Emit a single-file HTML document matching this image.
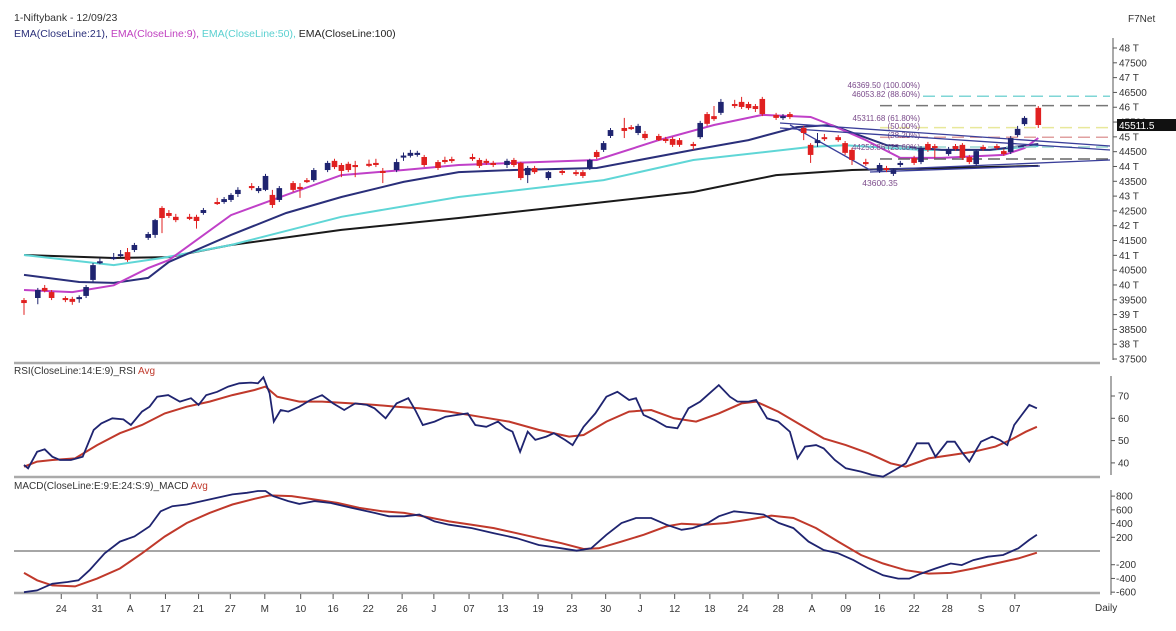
<!DOCTYPE html>
<html><head><meta charset="utf-8"><style>
html,body{margin:0;padding:0;background:#fff;}
svg{display:block;font-family:"Liberation Sans",sans-serif;}
</style></head><body>
<svg id="chart" width="1176" height="631" viewBox="0 0 1176 631" xmlns="http://www.w3.org/2000/svg">
<rect x="0" y="0" width="1176" height="631" fill="#fff"/>
<text x="14" y="21" font-size="10.5" fill="#333">1-Niftybank - 12/09/23</text>
<text x="14" y="37" font-size="10.5"><tspan fill="#2a2f7a">EMA(CloseLine:21), </tspan><tspan fill="#c040c0">EMA(CloseLine:9), </tspan><tspan fill="#5ad0d0">EMA(CloseLine:50), </tspan><tspan fill="#222">EMA(CloseLine:100)</tspan></text>
<text x="1128" y="22" font-size="10" fill="#333">F7Net</text>
<g id="grid"></g>
<g id="price"></g>
<g id="rsi"></g>
<g id="macd"></g>
<g id="axes"></g>
</svg>
<script>
// ---------- data ----------
const cIdx   = [0,2,3,4,6,7,8,9,10,11,13,14,15,16,18,19,20,21,22,24,25,26,28,29,30,31,33,34,35,36,37,39,40,41,42,44,45,46,47,48,50,51,52,54,55,56,57,58,60,61,62,65,66,67,68,70,71,72,73,74,76,78,80,81,82,83,84,85,87,88,89,90,92,93,94,95,97,98,99,100,101,103,104,105,106,107,109,110,111,113,114,115,116,118,119,120,122,124,125,126,127,129,130,131,132,134,135,136,137,138,139,141,142,143,144,145,147];
const cOpen  = [39490,39560,39900,39760,39560,39530,39530,39630,40170,40740,40880,40980,41110,41180,41590,41690,42600,42430,42300,42300,42300,42430,42800,42800,42870,43070,43340,43170,43210,43040,42870,43440,43310,43540,43540,43880,44190,44050,44090,44050,44090,44120,43850,43880,44300,44360,44390,44320,44150,44220,44250,44320,44220,44190,44120,44050,44220,44120,43710,43950,43610,43850,43810,43810,43950,44490,44560,45030,45300,45330,45130,45100,45030,44930,44930,44890,44760,44990,45770,45700,45810,46110,46180,46110,46040,46280,45740,45640,45770,45300,44730,44790,44990,44990,44790,44560,44150,43850,43950,43750,44050,44290,44150,44760,44690,44420,44690,44730,44320,44080,44660,44690,44520,44490,45060,45430,45980];
const cClose = [39390,39830,39800,39560,39490,39430,39590,39930,40670,40800,40940,41040,40840,41350,41720,42190,42260,42330,42190,42230,42160,42530,42740,42900,43040,43210,43270,43270,43680,42700,43270,43210,43240,43480,43880,44120,43980,43850,43880,43980,44020,44050,43780,44150,44370,44460,44460,44050,43950,44150,44190,44250,44020,44120,44050,44190,44050,43610,43950,43810,43810,43780,43750,43680,44220,44320,44790,45230,45200,45270,45370,44960,44890,44860,44730,44730,44690,45470,45440,45600,46180,46040,46010,45970,45940,45770,45640,45700,45670,45130,44390,44890,44930,44890,44460,44220,44080,44050,43880,43880,44120,44120,44620,44560,44630,44590,44590,44290,44150,44520,44590,44630,44420,44960,45270,45640,45400];
const cHigh  = [39560,39900,40000,39830,39620,39600,39650,40000,40740,40900,41080,41180,41250,41420,41790,42230,42660,42530,42400,42400,42370,42600,42940,42970,43100,43300,43440,43340,43750,43210,43340,43510,43440,43610,43950,44190,44260,44120,44160,44190,44230,44260,43950,44260,44470,44560,44530,44390,44220,44330,44330,44430,44290,44260,44190,44260,44290,44160,44020,44020,43850,43920,43880,43880,44260,44560,44860,45300,45640,45400,45440,45200,45100,45000,45000,44960,44830,45540,45840,46040,46280,46250,46350,46180,46110,46350,45810,45770,45840,45370,44790,45130,45100,45060,44860,44630,44260,44120,44020,43920,44190,44360,44690,44830,44760,44660,44760,44790,44390,44560,44730,44760,44590,45030,45370,45700,46040];
const cLow   = [38990,39350,39750,39490,39420,39330,39400,39560,40100,40700,40840,40940,40780,41110,41520,41590,41750,42260,42120,42190,41900,42370,42700,42740,42800,42970,43200,43100,43170,42600,42800,43140,42940,43440,43480,43810,43910,43640,43810,43640,43980,43980,43440,43810,44190,44300,44330,43980,43880,44090,44120,44190,43950,44050,43980,43950,43980,43540,43440,43750,43540,43710,43680,43610,43880,44250,44490,44960,44960,45230,45060,44890,44860,44790,44660,44660,44560,44930,45370,45540,45740,45970,45940,45910,45840,45700,45570,45570,45600,44890,44120,44660,44860,44830,44390,44050,44020,43780,43810,43680,43980,44050,44080,44490,44290,44360,44530,44220,44080,44020,44530,44560,44360,44420,45000,45370,45300];

const emaIdx100 = [0,13,21,30,46,63,83,97,109,120,133,147];
const ema100    = [41010,40910,40940,41350,41860,42260,42770,43140,43710,43880,43950,44020];
const emaIdx50  = [0,13,20,30,46,63,84,97,114,119,130,140,147];
const ema50     = [41010,40670,40910,41350,42300,42970,43540,44220,44660,44720,44560,44560,44690];
const emaIdx21  = [0,8,13,18,21,30,38,46,55,63,71,83,97,105,112,117,125,133,140,147];
const ema21     = [40340,40100,40070,40240,40780,41690,42430,42970,43480,43810,43880,43950,44560,44890,45330,45400,44720,44560,44560,44760];
const emaIdx9   = [0,7,13,18,21,30,38,46,55,63,71,83,92,100,107,114,117,122,127,133,142,145,147];
const ema9      = [39830,39760,39990,40570,40840,42360,43040,43710,43880,44050,44120,44220,44890,45400,45740,45670,45400,44890,44290,44290,44390,44620,44960];

const fibLevels = [46369.50,46053.82,45311.68,44984.93,44658.10,44253.86];
const fibLabels = ["46369.50 (100.00%)","46053.82 (88.60%)","45311.68 (61.80%)","(50.00%)","(38.20%)","44253.86 (23.60%)"];

const rsiIdx = [0,0.6,1.9,3.0,4.1,5.2,6.8,8.5,10.1,11.2,12.8,14.4,15.5,17.1,18.2,19.3,20.9,22.6,24.2,25.3,26.4,28.0,29.6,31.2,32.9,33.9,34.7,35.6,36.2,37.2,38.3,39.9,41.5,43.2,44.8,46.4,48.0,49.7,50.8,52.4,54.0,55.7,56.7,57.8,59.5,61.1,62.7,64.3,65.4,67.0,68.7,69.8,70.8,71.9,73.0,74.1,75.7,76.8,78.4,79.5,81.1,82.8,84.4,86.0,87.7,88.7,89.8,91.4,93.1,94.7,96.3,98.0,99.6,100.7,102.3,103.4,105.0,106.1,107.7,109.3,111.0,112.1,113.2,114.8,115.9,117.5,119.1,121.3,122.9,124.5,126.2,127.8,129.4,131.1,132.1,133.8,134.9,135.9,137.0,138.7,140.3,141.4,142.5,143.5,144.6,145.7,146.8];
const rsiVal = [39.1,37.6,45.0,46.1,42.8,41.3,41.3,42.8,54.8,57.7,60.0,59.5,57.0,63.0,65.2,69.7,70.4,67.5,69.0,66.0,70.4,71.9,74.2,75.7,76.0,75.7,78.4,71.2,58.5,63.7,63.0,65.2,68.2,70.4,66.7,63.7,66.7,66.0,64.5,60.0,66.7,69.0,63.7,57.0,58.5,60.7,61.5,62.2,57.0,56.2,58.5,55.5,54.0,45.0,54.0,50.3,51.8,53.3,50.3,48.0,56.2,62.2,69.7,71.9,68.2,69.0,61.5,59.2,56.2,55.5,64.5,67.5,71.9,74.9,69.7,67.5,67.5,68.2,60.0,58.5,54.0,42.0,47.3,48.0,46.5,41.3,37.6,36.1,34.6,33.8,36.8,39.8,48.8,48.8,42.8,49.5,49.5,45.0,40.6,49.5,51.8,50.3,48.0,57.0,61.5,66.0,64.5];
const rsiAvgIdx = [0,1.9,4.1,7.4,10.6,13.9,17.1,20.4,23.6,26.9,30.2,33.4,35.0,36.7,39.9,43.2,47.5,50.8,54.0,57.3,61.6,66.0,70.3,74.6,79.0,81.1,84.4,87.7,90.9,94.2,97.4,100.7,104.0,106.1,109.3,112.6,115.9,119.1,122.4,125.6,127.8,131.1,134.3,137.6,140.8,143.0,145.2,146.8];
const rsiAvg = [38.3,40.6,41.3,42.0,48.0,53.3,57.0,62.2,65.2,67.5,70.4,72.7,74.2,69.7,67.5,67.5,66.7,66.0,65.2,64.5,63.0,60.7,58.5,54.8,51.8,52.5,58.5,63.0,63.7,60.0,58.5,62.2,66.7,67.5,63.0,57.0,51.0,48.0,44.3,39.8,38.3,42.0,43.5,45.0,47.3,50.3,54.0,56.2];
const rsiTicks = [70,60,50,40];

const macdIdx = [0,1.9,4.1,6.3,7.9,9.5,11.7,13.9,16.0,18.2,19.8,21.5,23.6,25.8,28.0,30.2,32.3,33.9,35.0,36.1,38.3,39.9,42.1,44.3,47.5,50.8,52.9,55.1,57.3,59.5,61.6,64.9,68.1,71.4,74.6,77.9,80.1,82.2,84.4,86.6,88.7,90.9,93.1,95.3,96.9,99.1,100.7,102.9,105.0,107.2,109.4,111.5,113.7,115.9,118.0,120.2,122.4,124.5,126.7,128.3,130.0,132.1,134.3,135.9,137.6,139.7,141.9,144.1,145.7,146.8];
const macdVal = [-600,-574,-476,-452,-427,-280,-34,137,211,358,579,653,678,727,776,825,849,874,874,800,727,687,727,702,628,555,506,506,530,432,383,334,260,187,88,39,5,39,236,408,481,481,383,309,334,408,506,579,555,530,408,334,137,15,-34,-133,-255,-354,-403,-403,-329,-255,-182,-206,-133,-83,-59,39,162,236];
const sigIdx = [0,1.9,4.1,7.4,10.6,13.9,17.1,20.4,23.6,26.9,30.2,33.4,35.6,38.8,42.1,45.4,48.6,51.9,55.1,58.4,61.6,64.9,68.1,71.4,74.6,77.9,81.1,83.3,86.6,89.8,93.1,95.3,98.5,101.8,105.0,108.3,111.5,114.8,118.0,121.3,124.5,127.8,131.1,134.3,137.6,140.8,144.1,146.8];
const sigVal = [-319,-427,-501,-516,-403,-255,-34,211,408,555,678,761,810,800,751,702,628,579,555,496,432,383,334,260,187,113,29,39,137,236,358,398,383,408,457,516,481,334,137,-59,-182,-280,-329,-319,-255,-182,-108,-25];
const macdTicks = [800,600,400,200,-200,-400,-600];

const priceTicks = [48000,47500,47000,46500,46000,45500,45000,44500,44000,43500,43000,42500,42000,41500,41000,40500,40000,39500,39000,38500,38000,37500];
const dateLabels = ["24","31","A","17","21","27","M","10","16","22","26","J","07","13","19","23","30","J","12","18","24","28","A","09","16","22","28","S","07"];
const dateIdx = [5.4,10.6,15.4,20.5,25.3,29.9,34.9,40.1,44.8,49.9,54.8,59.4,64.5,69.4,74.5,79.4,84.3,89.3,94.3,99.4,104.2,109.3,114.2,119.1,124.0,129.0,133.8,138.7,143.6];

// ---------- scales ----------
const xi = i => 24 + i * 6.9;
const yP = p => 48 + (48000 - p) / 33.76;
const yR = r => 396 + (70 - r) * 2.23;
const yM = m => 551 - m * 0.0686;
const NS = "http://www.w3.org/2000/svg";
function mk(tag, parent, attrs){ const e=document.createElementNS(NS,tag); for(const k in attrs) e.setAttribute(k,attrs[k]); parent.appendChild(e); return e; }
function pathD(idx, vals, fy){ return idx.map((i,k)=>(k?'L':'M')+xi(i).toFixed(1)+' '+fy(vals[k]).toFixed(1)).join(' '); }

const grid=document.getElementById('grid'), price=document.getElementById('price'), rsi=document.getElementById('rsi'), macd=document.getElementById('macd'), axes=document.getElementById('axes');

// separators
[[363,'price-pane-separator'],[477,'rsi-pane-separator'],[593,'macd-pane-separator']].forEach(([y,n])=>{
  const l=mk('line',grid,{x1:14,x2:1100,y1:y,y2:y,stroke:'#aaa','stroke-width':2.5});
  
  
});
const zl=mk('line',grid,{x1:14,x2:1100,y1:yM(0),y2:yM(0),stroke:'#888','stroke-width':1.6});



// EMAs
[[emaIdx100,ema100,'#1a1a1a','ema-100-line'],[emaIdx50,ema50,'#5fd6d6','ema-50-line'],[emaIdx21,ema21,'#2a2f7a','ema-21-line'],[emaIdx9,ema9,'#c040c8','ema-9-line']].forEach(([ix,v,c,n])=>{
  const p=mk('path',price,{d:pathD(ix,v,yP),fill:'none',stroke:c,'stroke-width':2});
  
  
});

// fib lines
const fibColors=['#7fd6d6','#777','#e8e89a','#e0a0a0','#9ad6d0','#666'];
const fibStart=[923,880,880,880,880,880];
fibLevels.forEach((lv,k)=>{
  const l=mk('line',price,{x1:fibStart[k],x2:1110,y1:yP(lv),y2:yP(lv),stroke:fibColors[k],'stroke-width':1.5,'stroke-dasharray':'12 6'});
  
  
});
const fibLabelY=[88,97,121,129,138,150];
fibLabels.forEach((t,k)=>{
  const tx=mk('text',price,{x:920,y:fibLabelY[k],'font-size':8,fill:'#7a4a8a','text-anchor':'end'});
  tx.textContent=t;
  
  
});

// trendlines
[[780,123,1110,146],[780,128,1110,150],[790,125,870,170],[870,170,1110,160],[870,172,1040,166]].forEach(s=>{
  const l=mk('line',price,{x1:s[0],y1:s[1],x2:s[2],y2:s[3],stroke:'#3a3f9a','stroke-width':1.3});
  
  
});
const lowLbl=mk('text',price,{x:880,y:186,'font-size':8.5,fill:'#7a4a8a','text-anchor':'middle'});
lowLbl.textContent='43600.35';



// candles
cIdx.forEach((i,k)=>{
  const up=cClose[k]>=cOpen[k], col=up?'#1f2470':'#e02020';
  const x=xi(i);
  const w=mk('line',price,{x1:x,x2:x,y1:yP(cHigh[k]),y2:yP(cLow[k]),stroke:col,'stroke-width':1});
  
  
  const t=yP(Math.max(cOpen[k],cClose[k])), b=yP(Math.min(cOpen[k],cClose[k]));
  const r=mk('rect',price,{x:x-2.8,y:t,width:5.6,height:Math.max(2,b-t),fill:col});
  
  
});

// price axis
const pa=mk('line',axes,{x1:1113,x2:1113,y1:38,y2:360,stroke:'#555','stroke-width':1});


priceTicks.forEach(p=>{
  const y=yP(p);
  mk('line',axes,{x1:1113,x2:1117,y1:y,y2:y,stroke:'#555'});
  const t=mk('text',axes,{x:1119,y:y+3.5,'font-size':10,fill:'#333'});
  t.textContent = (p%1000===0) ? (p/1000)+' T' : String(p);
  
  
});
const lastBox=mk('rect',axes,{x:1117,y:yP(cClose[cClose.length-1])-6,width:59,height:12,fill:'#111'});


const lastTxt=mk('text',axes,{x:1119,y:yP(cClose[cClose.length-1])+4,'font-size':10,fill:'#fff'});
lastTxt.textContent='45511.5';



// RSI
const rt=mk('text',rsi,{x:14,y:374,'font-size':10,fill:'#333'});
rt.innerHTML='RSI(CloseLine:14:E:9)_RSI <tspan fill="#c0392b">Avg</tspan>';


const ra=mk('path',rsi,{d:pathD(rsiAvgIdx,rsiAvg,yR),fill:'none',stroke:'#c0392b','stroke-width':2});


const rl=mk('path',rsi,{d:pathD(rsiIdx,rsiVal,yR),fill:'none',stroke:'#1f2470','stroke-width':1.8});


const rax=mk('line',axes,{x1:1111,x2:1111,y1:376,y2:475,stroke:'#555'});


rsiTicks.forEach(v=>{
  const y=yR(v);
  mk('line',axes,{x1:1111,x2:1115,y1:y,y2:y,stroke:'#555'});
  const t=mk('text',axes,{x:1118,y:y+3.5,'font-size':10,fill:'#333'});
  t.textContent=String(v);
  
  
});

// MACD
const mt=mk('text',macd,{x:14,y:489,'font-size':10,fill:'#333'});
mt.innerHTML='MACD(CloseLine:E:9:E:24:S:9)_MACD <tspan fill="#c0392b">Avg</tspan>';


const ms=mk('path',macd,{d:pathD(sigIdx,sigVal,yM),fill:'none',stroke:'#c0392b','stroke-width':2});


const ml=mk('path',macd,{d:pathD(macdIdx,macdVal,yM),fill:'none',stroke:'#1f2470','stroke-width':1.8});


const max=mk('line',axes,{x1:1111,x2:1111,y1:490,y2:595,stroke:'#555'});


macdTicks.forEach(v=>{
  const y=yM(v);
  mk('line',axes,{x1:1111,x2:1115,y1:y,y2:y,stroke:'#555'});
  const t=mk('text',axes,{x:1116,y:y+3.5,'font-size':10,fill:'#333'});
  t.textContent=String(v);
  
  
});

// date axis
dateLabels.forEach((d,k)=>{
  const x=xi(dateIdx[k]);
  mk('line',axes,{x1:x,x2:x,y1:594,y2:599,stroke:'#555'});
  const t=mk('text',axes,{x:x,y:612,'font-size':10,fill:'#333','text-anchor':'middle'});
  t.textContent=d;
  
  
});
const dl=mk('text',axes,{x:1095,y:611,'font-size':10,fill:'#333'});
dl.textContent='Daily';


</script>
</body></html>
